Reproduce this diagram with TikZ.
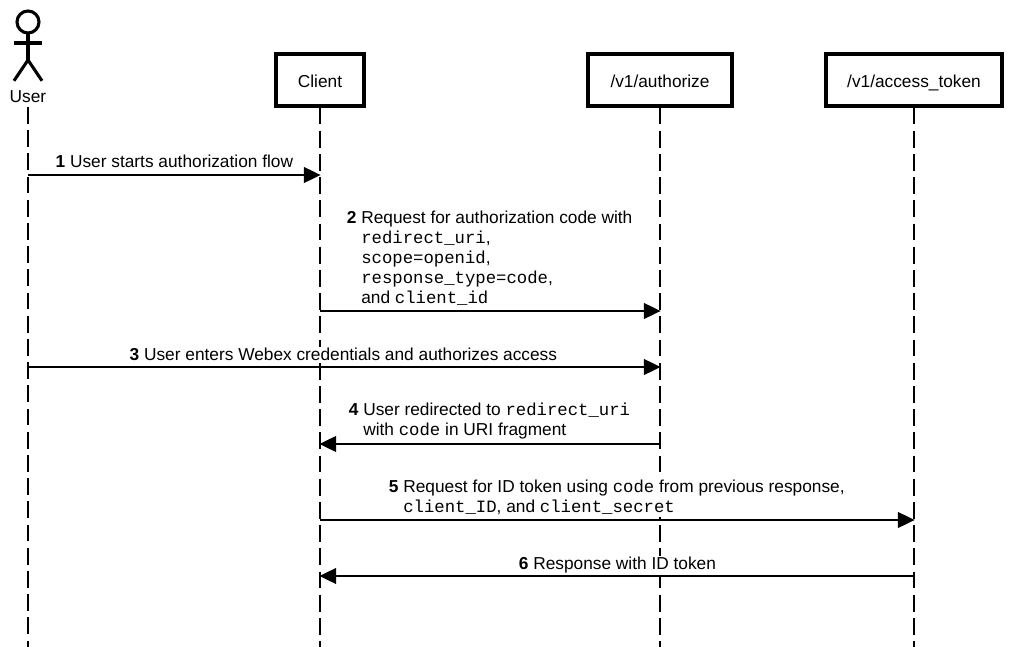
\documentclass[tikz,border=0pt]{standalone}
\usepackage{fontspec}
\setmainfont{Liberation Sans}
\setmonofont{Liberation Mono}
\usetikzlibrary{arrows.meta,positioning}

\begin{document}
\begin{tikzpicture}[
    party/.style={rectangle, draw=black, line width=2.4pt, fill=white, minimum height=1.3cm, text height=10pt, text depth=0pt, font=\fontsize{12.3}{14}\selectfont},
    lifeline/.style={draw=black, line width=0.85pt, dash pattern=on 0.42cm off 0.16cm},
    message/.style={draw=black, line width=0.95pt, -{Triangle[length=0.42cm,width=0.4cm]}, shorten >=-0.4pt},
    msglabel/.style={fill=white, inner sep=1pt, align=left, anchor=south west, font=\fontsize{12.3}{14.2}\selectfont},
    actor/.style={draw=black, line width=2.2pt}
]
    \useasboundingbox (0,0) rectangle (25.325,-16.175);

    % actor
    \draw[actor] (0.7,-0.55) circle (0.275);
    \draw[actor] (0.7,-0.825) -- (0.7,-1.5);
    \draw[actor] (0.35,-1.075) -- (1.05,-1.075);
    \draw[actor] (0.35,-2.02) -- (0.7,-1.5) -- (1.05,-2.02);
    \node[inner sep=1pt, font=\fontsize{12.3}{14}\selectfont] (user) at (0.7,-2.42) {User};

    % boxes
    \node[party, minimum width=2.2cm]  (client) at (8.0,-2.0) {Client};
    \node[party, minimum width=3.6cm]  (authorize) at (16.5,-2.0) {/v1/authorize};
    \node[party, minimum width=4.4cm]  (token) at (22.85,-2.0) {/v1/access\_token};

    % free ends of the lifelines
    \coordinate (userend) at (0.7,-16.175);
    \coordinate (clientend) at (8.0,-16.175);
    \coordinate (authorizeend) at (16.5,-16.175);
    \coordinate (tokenend) at (22.85,-16.175);

    \draw[lifeline, shorten <=0.06cm] (user.south) -- (userend);
    \draw[lifeline] (client.south) -- (clientend);
    \draw[lifeline] (authorize.south) -- (authorizeend);
    \draw[lifeline] (token.south) -- (tokenend);

    % message ends on the lifelines
    \coordinate (u1) at (0.7,-4.375);
    \coordinate (c1) at (8.0,-4.375);
    \coordinate (c2) at (8.0,-7.775);
    \coordinate (a2) at (16.5,-7.775);
    \coordinate (u3) at (0.7,-9.175);
    \coordinate (a3) at (16.5,-9.175);
    \coordinate (a4) at (16.5,-11.1);
    \coordinate (c4) at (8.0,-11.1);
    \coordinate (c5) at (8.0,-13.0);
    \coordinate (t5) at (22.85,-13.0);
    \coordinate (t6) at (22.85,-14.4);
    \coordinate (c6) at (8.0,-14.4);

    % labels
    \node[msglabel] (m1) at (1.35,-4.24) {\textbf{1} User starts authorization flow};
    \node[msglabel] (m2) at (8.63,-7.67) {\textbf{2} Request for authorization code with\\
        \hphantom{\textbf{2} }\texttt{redirect\_uri},\\
        \hphantom{\textbf{2} }\texttt{scope=openid},\\
        \hphantom{\textbf{2} }\texttt{response\_type=code},\\
        \hphantom{\textbf{2} }and \texttt{client\_id}};
    \node[msglabel] (m3) at (3.2,-9.06) {\textbf{3} User enters Webex credentials and authorizes access};
    \node[msglabel] (m4) at (8.68,-11.03) {\textbf{4} User redirected to \texttt{redirect\_uri}\\
        \hphantom{\textbf{4} }with \texttt{code} in URI fragment};
    \node[msglabel] (m5) at (9.68,-12.92) {\textbf{5} Request for ID token using \texttt{code} from previous response,\\
        \hphantom{\textbf{5} }\texttt{client\_ID}, and \texttt{client\_secret}};
    \node[msglabel] (m6) at (12.93,-14.37) {\textbf{6} Response with ID token};

    % messages
    \draw[message] (u1) -- (c1);
    \draw[message] (c2) -- (a2);
    \draw[message] (u3) -- (a3);
    \draw[message] (a4) -- (c4);
    \draw[message] (c5) -- (t5);
    \draw[message] (t6) -- (c6);
\end{tikzpicture}
\end{document}
